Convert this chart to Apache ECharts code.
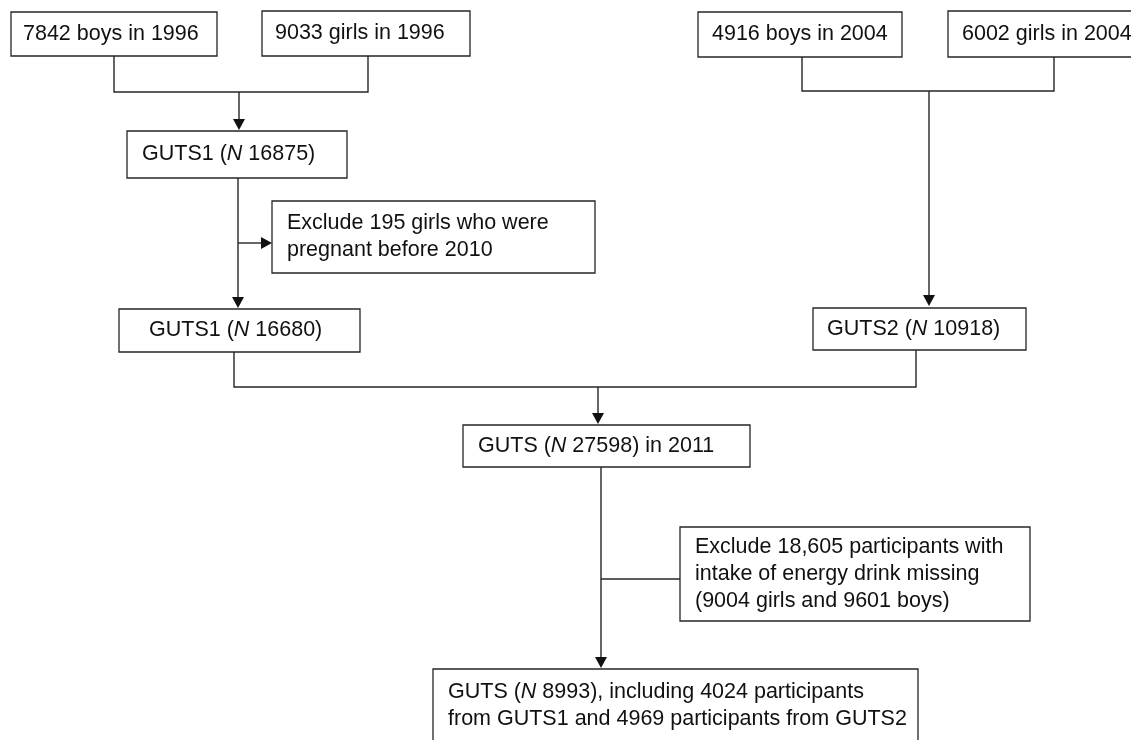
<!DOCTYPE html>
<html>
<head>
<meta charset="utf-8">
<script src="https://cdn.jsdelivr.net/npm/echarts@6/dist/echarts.min.js"></script>
<style>
  html, body { margin: 0; padding: 0; background: #fff; }
  #chart { width: 1131px; height: 740px; }
</style>
</head>
<body>
<div id="chart"></div>
<script>
// box labels ({i|N} = italic N)
var boxText = [
  '7842 boys in 1996',
  '9033 girls in 1996',
  '4916 boys in 2004',
  '6002 girls in 2004',
  'GUTS1 ({i|N} 16875)',
  'Exclude 195 girls who were\npregnant before 2010',
  'GUTS1 ({i|N} 16680)',
  'GUTS2 ({i|N} 10918)',
  'GUTS ({i|N} 27598) in 2011',
  'Exclude 18,605 participants with\nintake of energy drink missing\n(9004 girls and 9601 boys)',
  'GUTS ({i|N} 8993), including 4024 participants\nfrom GUTS1 and 4969 participants from GUTS2'
];

// layout, in axis units (x0, y0, x1, y1) and where the text starts
var boxRect = [
  [11, 12, 217, 56], [262, 11, 470, 56], [698, 12, 902, 57], [948, 11, 1140, 57],
  [127, 131, 347, 178], [272, 201, 595, 273], [119, 309, 360, 352],
  [813, 308, 1026, 350], [463, 425, 750, 467], [680, 527, 1030, 621],
  [433, 669, 918, 742]
];
var textX = [23, 275, 712, 962, 142, 287, 149, 827, 478, 695, 448];

// connectors: points, and whether it ends in an arrow
var links = [
  { pts: [[114, 56], [114, 92], [368, 92], [368, 56]], arrow: false },
  { pts: [[239, 92], [239, 130]], arrow: true },
  { pts: [[802, 57], [802, 91], [1054, 91], [1054, 57]], arrow: false },
  { pts: [[929, 91], [929, 306]], arrow: true },
  { pts: [[238, 178], [238, 308]], arrow: true },
  { pts: [[238, 243], [272, 243]], arrow: true },
  { pts: [[234, 352], [234, 387], [916, 387], [916, 350]], arrow: false },
  { pts: [[598, 387], [598, 424]], arrow: true },
  { pts: [[601, 467], [601, 668]], arrow: true },
  { pts: [[601, 579], [680, 579]], arrow: false }
];

var FONT = 'Liberation Sans, Arial, Helvetica, sans-serif';
var INK = '#111';

var chart = echarts.init(document.getElementById('chart'));

function renderBox(params, api) {
  var r = boxRect[params.dataIndex];
  var p0 = api.coord([r[0], r[1]]);
  var p1 = api.coord([r[2], r[3]]);
  var tx = api.coord([textX[params.dataIndex], 0])[0];
  return {
    type: 'group',
    children: [{
      type: 'rect',
      shape: { x: p0[0], y: p0[1], width: p1[0] - p0[0], height: p1[1] - p0[1] },
      style: { fill: '#fff', stroke: '#262626', lineWidth: 1.3 }
    }, {
      type: 'text',
      x: tx,
      y: (p0[1] + p1[1]) / 2,
      style: {
        text: boxText[params.dataIndex],
        fontFamily: FONT,
        fontSize: 21.5,
        lineHeight: 27,
        fill: INK,
        align: 'left',
        verticalAlign: 'middle',
        rich: {
          i: { fontFamily: FONT, fontSize: 21.5, lineHeight: 27, fontStyle: 'italic', fill: INK }
        }
      }
    }]
  };
}

function renderLink(params, api) {
  var l = links[params.dataIndex];
  var pts = l.pts.map(function (p) { return api.coord(p); });
  var children = [];
  if (l.arrow) {
    var a = pts[pts.length - 2], b = pts[pts.length - 1];
    var dx = b[0] - a[0], dy = b[1] - a[1];
    var len = Math.sqrt(dx * dx + dy * dy);
    var ux = dx / len, uy = dy / len;
    var hl = 11, hw = 6;
    var base = [b[0] - ux * hl, b[1] - uy * hl];
    pts[pts.length - 1] = base;
    children.push({
      type: 'polygon',
      shape: { points: [b, [base[0] - uy * hw, base[1] + ux * hw], [base[0] + uy * hw, base[1] - ux * hw]] },
      style: { fill: INK }
    });
  }
  children.unshift({
    type: 'polyline',
    shape: { points: pts },
    style: { stroke: '#262626', lineWidth: 1.4, fill: null }
  });
  return { type: 'group', children: children };
}

chart.setOption({
  animation: false,
  backgroundColor: '#fff',
  grid: { left: 0, right: 0, top: 0, bottom: 0 },
  xAxis: { type: 'value', min: 0, max: 1131, show: false },
  yAxis: { type: 'value', min: 0, max: 740, inverse: true, show: false },
  series: [{
    type: 'custom',
    renderItem: renderLink,
    data: links.map(function (l) { return [l.pts[0][0], l.pts[0][1]]; }),
    clip: false,
    silent: true
  }, {
    type: 'custom',
    renderItem: renderBox,
    data: boxRect.map(function (r) { return [r[0], r[1]]; }),
    clip: false,
    silent: true
  }]
});
</script>
</body>
</html>
